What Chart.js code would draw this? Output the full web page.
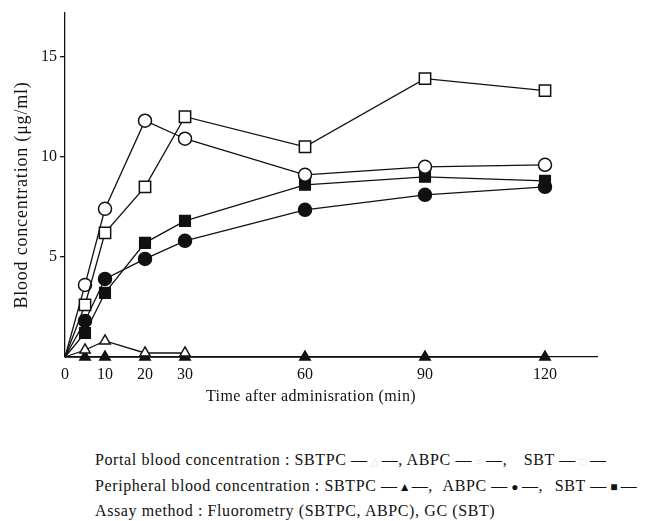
<!DOCTYPE html>
<html>
<head>
<meta charset="utf-8">
<script src="https://cdn.jsdelivr.net/npm/chart.js@4/dist/chart.umd.min.js"></script>
<style>
  body { margin: 0; background: #fff; }
  #wrap { position: relative; width: 646px; height: 521px; }
  #c { position: absolute; left: 0; top: 0; }
  .note { position: absolute; left: 95px; font-family: "Liberation Serif", serif; font-size: 16px; letter-spacing: 0.6px; color: #111; white-space: nowrap; line-height: 18px; }
  .faint, .sym { display: inline-block; width: 14px; text-align: center; font-size: 12px; letter-spacing: 0; }
  .faint { color: #ddd; font-size: 10px; }
  .gap { display: inline-block; }
</style>
</head>
<body>
<div id="wrap">
  <canvas id="c" width="646" height="420"></canvas>
  <div class="note" style="top:451px">Portal blood concentration : SBTPC —<span class="faint">△</span>—, ABPC —<span class="faint">○</span>—,<span class="gap" style="width:12px"></span> SBT —<span class="faint">□</span>—</div>
  <div class="note" style="top:477px">Peripheral blood concentration : SBTPC —<span class="sym">▲</span>—,<span class="gap" style="width:6px"></span> ABPC —<span class="sym">●</span>—,<span class="gap" style="width:7px"></span> SBT —<span class="sym">■</span>—</div>
  <div class="note" style="top:502px">Assay method : Fluorometry (SBTPC, ABPC), GC (SBT)</div>
</div>
<script>
// minutes after administration
const times = [0, 5, 10, 20, 30, 60, 90, 120];
const xTicks = [0, 10, 20, 30, 60, 90, 120];
const yTicks = [5, 10, 15];

// portal blood (open markers)
const portalSbtpc = [0, 0.35, 0.8, 0.2, 0.2];
const portalAbpc = [0, 3.6, 7.4, 11.8, 10.9, 9.1, 9.5, 9.6];
const portalSbt = [0, 2.6, 6.2, 8.5, 12.0, 10.5, 13.9, 13.3];

// peripheral blood (filled markers)
const periphSbtpc = [0, 0, 0, 0, 0, 0, 0, 0];
const periphAbpc = [0, 1.8, 3.9, 4.9, 5.8, 7.35, 8.1, 8.5];
const periphSbt = [0, 1.2, 3.2, 5.7, 6.8, 8.6, 9.0, 8.8];

const xTitle = 'Time after adminisration (min)';
const yTitle = 'Blood concentration (μg/ml)';

const serif = "'Liberation Serif', 'DejaVu Serif', serif";

function series(label, values, style, r, open) {
    return {
        label,
        data: values.map((v, i) => ({ x: times[i], y: v })),
        borderColor: '#111',
        borderWidth: 1.3,
        pointStyle: style,
        pointRadius: c => c.dataIndex === 0 ? 0 : r,
        pointBackgroundColor: open ? '#fff' : '#111',
        pointBorderColor: '#111',
        pointBorderWidth: 1.5,
        clip: false,
        tension: 0
    };
}

// axis titles sit off-centre in the original, so draw them here
const axisTitles = {
    id: 'axisTitles',
    afterDraw(chart) {
        const ctx = chart.ctx;
        ctx.save();
        ctx.fillStyle = '#111';
        ctx.textAlign = 'center';
        ctx.textBaseline = 'middle';
        ctx.font = '16px ' + serif;
        ctx.letterSpacing = '0.4px';
        ctx.fillText(xTitle, 311, 397);
        ctx.translate(22, 195);
        ctx.rotate(-Math.PI / 2);
        ctx.font = '18px ' + serif;
        ctx.letterSpacing = '0.8px';
        ctx.fillText(yTitle, 0, 0);
        ctx.restore();
    }
};

new Chart(document.getElementById('c'), {
    type: 'line',
    data: {
        datasets: [
            series('Portal SBT', portalSbt, 'rect', 8, true),
            series('Portal ABPC', portalAbpc, 'circle', 6.5, true),
            series('Peripheral SBT', periphSbt, 'rect', 7.5, false),
            series('Peripheral ABPC', periphAbpc, 'circle', 6.5, false),
            series('Portal SBTPC', portalSbtpc, 'triangle', 6, true),
            series('Peripheral SBTPC', periphSbtpc, 'triangle', 6, false)
        ]
    },
    options: {
        responsive: false,
        animation: false,
        layout: { padding: { left: 0, top: 8, right: 49, bottom: 0 } },
        plugins: { legend: { display: false }, tooltip: { enabled: false } },
        scales: {
            x: {
                type: 'linear',
                min: 0,
                max: 133,
                afterBuildTicks: s => { s.ticks = xTicks.map(v => ({ value: v })); },
                afterFit: s => { s.height = 63; },
                grid: { display: false, drawTicks: false },
                border: { display: true, color: '#111', width: 1.3 },
                ticks: { color: '#111', padding: 8, maxRotation: 0, autoSkip: false, font: { family: serif, size: 16 } }
            },
            y: {
                min: 0,
                max: 17.2,
                afterBuildTicks: s => { s.ticks = yTicks.map(v => ({ value: v })); },
                afterFit: s => { s.width = 65; },
                grid: { drawOnChartArea: false, drawTicks: true, tickLength: 5, color: '#111', lineWidth: 1.3 },
                border: { display: true, color: '#111', width: 1.3 },
                ticks: { color: '#111', padding: 3, font: { family: serif, size: 16 } }
            }
        }
    },
    plugins: [axisTitles]
});
</script>
</body>
</html>
